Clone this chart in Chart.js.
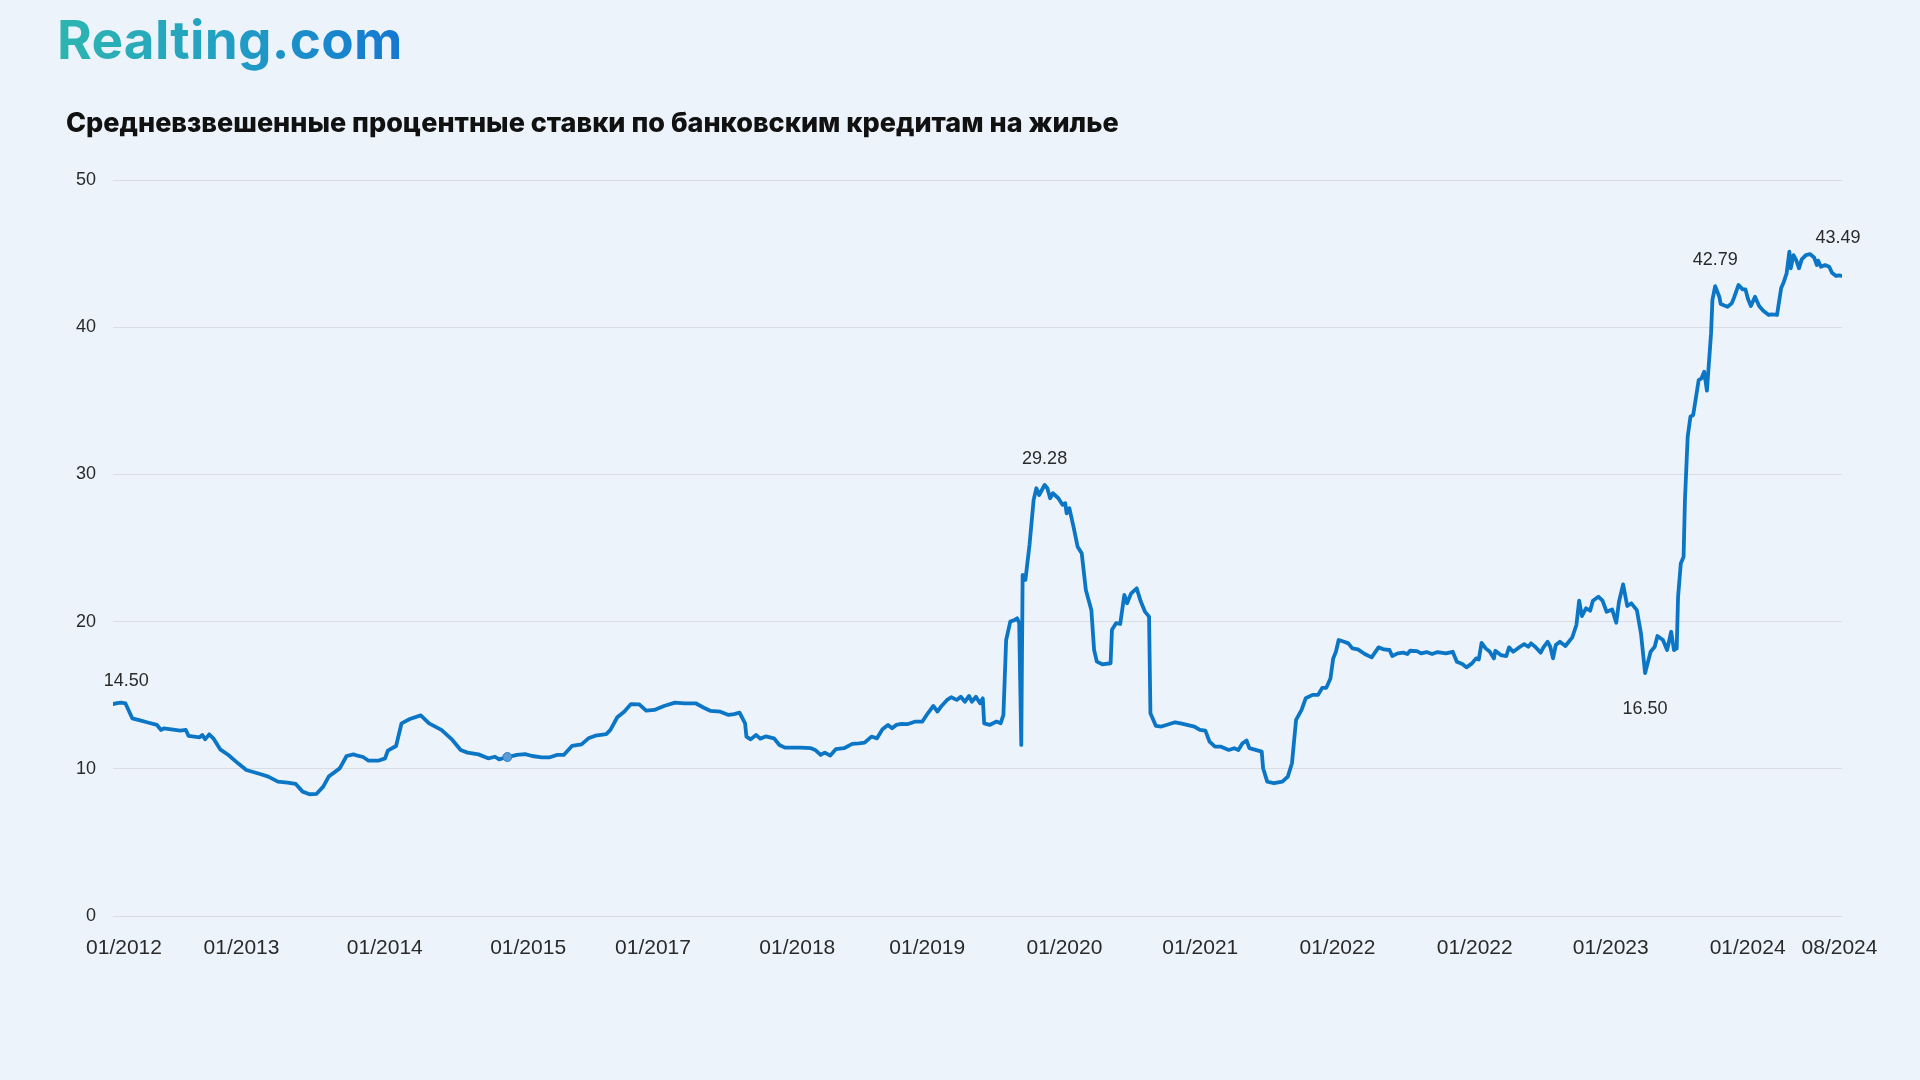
<!DOCTYPE html>
<html>
<head>
<meta charset="utf-8">
<script src="https://cdn.jsdelivr.net/npm/chart.js@4.4.1/dist/chart.umd.min.js"></script>
<style>
  html, body { margin:0; padding:0; width:1920px; height:1080px; overflow:hidden; background:#EDF3FB; }
  #logo { position:absolute; left:57px; top:5px; font-family:Inter, "Noto Sans", sans-serif; font-weight:700;
          font-size:53px; line-height:70px; letter-spacing:0.3px;
          background:linear-gradient(90deg,#2DB5B0 0%,#22A2C2 45%,#1477D2 100%);
          -webkit-background-clip:text; background-clip:text; color:transparent; z-index:2; }
  #title { position:absolute; left:66px; top:109px; font-family:Inter, "Noto Sans", sans-serif; font-weight:800;
           font-size:27px; line-height:27px; color:#111; z-index:2; white-space:nowrap; }
  #wrap { position:absolute; left:0; top:0; width:1920px; height:1080px; z-index:1; }
</style>
</head>
<body>
<div id="logo">Realting.com</div>
<div id="title">Средневзвешенные процентные ставки по банковским кредитам на жилье</div>
<div id="wrap"><canvas id="c" width="1920" height="1080"></canvas></div>
<script>
// ---- data (decimal year, weighted average rate %) ----
const years = [
2012.00,2012.03,2012.06,2012.09,2012.14,2012.19,2012.26,2012.32,2012.35,2012.37,2012.49,2012.53,2012.55,2012.63,2012.65,2012.67,2012.70,2012.73,2012.78,2012.84,2012.91,2012.97,
2013.07,2013.13,2013.20,2013.27,2013.33,2013.38,2013.43,2013.48,2013.53,2013.57,2013.65,2013.70,2013.75,2013.78,2013.82,2013.86,2013.93,2013.98,
2014.00,2014.06,2014.10,2014.16,2014.24,2014.30,2014.39,2014.47,2014.53,2014.58,2014.66,2014.73,2014.78,2014.81,2014.87,2014.94,
2015.00,2015.05,2015.12,2015.18,2015.23,2015.28,2015.34,2015.41,2015.46,2015.51,2015.59,2015.62,2015.67,2015.72,2015.77,2015.83,2015.88,2015.94,
2016.01,2016.09,2016.16,2016.24,2016.30,2016.35,2016.42,2016.48,2016.52,2016.56,2016.60,2016.61,2016.64,2016.68,2016.71,2016.75,2016.81,2016.85,2016.89,
2017.00,2017.08,2017.11,2017.15,2017.18,2017.22,2017.26,2017.32,2017.38,2017.43,2017.47,2017.52,2017.56,2017.60,2017.64,2017.67,2017.70,2017.74,2017.78,2017.84,2017.89,2017.93,2017.97,
2018.00,2018.03,2018.07,2018.10,2018.14,2018.17,2018.20,2018.23,2018.25,2018.28,2018.31,2018.33,2018.34,2018.38,2018.43,2018.46,2018.48,2018.50,2018.53,2018.56,2018.58,2018.595,2018.61,2018.62,2018.64,2018.67,2018.70,2018.72,2018.74,2018.78,2018.80,2018.82,2018.84,2018.88,2018.91,2018.93,2018.94,2018.96,2018.99,
2019.02,2019.05,2019.08,2019.12,2019.14,2019.16,2019.20,2019.26,2019.27,2019.30,2019.33,2019.36,2019.38,2019.41,2019.45,2019.48,2019.51,2019.54,2019.55,2019.59,2019.63,2019.73,2019.77,2019.87,2019.91,2019.95,2019.98,
2020.02,2020.06,2020.12,2020.16,2020.19,2020.22,2020.25,2020.27,2020.36,2020.37,2020.40,2020.45,2020.51,2020.55,2020.58,2020.61,2020.65,2020.68,2020.73,2020.77,2020.80,2020.83,2020.86,2020.88,2020.90,2020.92,2020.96,2020.99,
2021.02,2021.06,2021.11,2021.16,2021.21,2021.25,2021.29,2021.31,2021.35,2021.39,2021.42,2021.44,2021.49,2021.52,2021.56,2021.60,2021.64,2021.70,2021.75,2021.78,2021.82,2021.85,2021.89,2021.92,2021.94,2021.96,2021.99,
2022.02,2022.05,2022.06,2022.10,2022.14,2022.16,2022.19,2022.24,2022.27,2022.30,2022.32,2022.35,2022.39,2022.41,2022.44,2022.46,2022.48,2022.50,2022.53,2022.57,2022.62,2022.65,2022.67,2022.69,2022.72,2022.75,2022.77,2022.81,2022.84,2022.87,2022.91,2022.94,2022.96,2022.99,
2023.02,2023.05,2023.09,2023.12,2023.15,2023.19,2023.22,2023.24,2023.28,2023.31,2023.34,2023.36,2023.38,2023.39,2023.41,2023.43,2023.44,2023.46,2023.48,2023.50,2023.54,2023.56,2023.58,2023.60,2023.63,2023.64,2023.66,2023.69,2023.70,2023.75,2023.78,2023.80,2023.83,2023.86,2023.88,2023.90,2023.92,2023.95,2023.98,
2024.01,2024.05,2024.07,2024.11,2024.14,2024.16,2024.18,2024.20,2024.21,2024.23,2024.25,2024.27,2024.29,2024.32,2024.35,2024.38,2024.40,2024.41,2024.43,2024.46,2024.49,2024.51,2024.54,2024.56,2024.583
];
const rates = [
14.40,14.46,14.50,14.45,13.43,13.31,13.13,12.98,12.64,12.75,12.59,12.64,12.23,12.14,12.30,12.00,12.34,12.07,11.32,10.94,10.37,9.92,
9.65,9.47,9.13,9.06,8.97,8.45,8.27,8.29,8.79,9.47,10.03,10.87,10.98,10.89,10.80,10.55,10.55,10.71,
11.23,11.55,13.09,13.38,13.63,13.09,12.64,11.96,11.28,11.10,10.98,10.71,10.82,10.64,10.80,10.94,
11.00,10.87,10.78,10.78,10.94,10.94,11.55,11.66,12.07,12.25,12.36,12.64,13.50,13.88,14.40,14.38,13.95,14.00,
14.27,14.50,14.45,14.45,14.15,13.93,13.88,13.66,13.72,13.81,13.09,12.18,12.00,12.30,12.05,12.20,12.07,11.62,11.44,
11.44,11.40,11.28,10.94,11.10,10.90,11.33,11.40,11.69,11.73,11.78,12.19,12.07,12.69,12.98,12.75,12.98,13.05,13.03,13.21,13.21,13.77,14.27,
13.89,14.27,14.68,14.86,14.68,14.90,14.56,14.95,14.56,14.90,14.45,14.79,13.09,12.98,13.21,13.09,13.66,18.75,20.00,20.10,20.23,19.89,11.62,23.17,22.83,25.21,28.27,29.06,28.60,29.28,29.06,28.38,28.72,28.38,27.93,28.04,27.36,27.70,26.45,
25.09,24.64,22.15,20.79,18.08,17.28,17.10,17.17,19.44,19.89,19.84,21.81,21.25,21.92,22.26,21.36,20.68,20.34,13.77,12.91,12.87,13.16,13.09,12.87,12.64,12.59,11.85,
11.51,11.51,11.28,11.40,11.28,11.73,11.92,11.40,11.17,10.04,9.13,9.02,9.13,9.47,10.38,13.32,14.00,14.79,15.02,15.02,15.50,15.50,16.14,17.50,17.95,18.75,18.63,18.52,
18.18,18.11,17.80,17.57,18.25,18.11,18.07,17.66,17.84,17.89,17.80,18.02,18.00,17.84,17.93,17.80,17.93,17.84,17.95,17.27,17.12,16.89,17.16,17.50,17.43,18.56,18.18,
17.95,17.50,18.02,17.73,17.66,18.25,17.95,18.29,18.47,18.29,18.52,18.29,17.89,18.25,18.63,18.29,17.50,18.41,18.63,18.34,18.93,19.77,21.42,20.38,20.90,20.74,21.42,21.69,21.42,20.67,20.83,19.92,21.35,22.53,
21.06,21.24,20.78,19.20,16.50,17.95,18.29,19.02,18.75,18.07,19.31,18.07,18.18,21.69,23.95,24.41,28.26,32.56,33.92,34.03,36.41,36.52,36.98,35.69,39.58,41.85,42.79,42.07,41.58,41.39,41.62,42.07,42.87,42.57,42.57,41.89,41.44,42.07,41.44,
41.12,40.83,40.87,40.83,42.64,43.09,43.66,45.13,44.00,44.90,44.56,44.00,44.61,44.90,44.97,44.74,44.22,44.52,44.11,44.22,44.11,43.70,43.48,43.52,43.49
];
// x-axis tick positions (decimal year) and the labels printed there
const tickYears  = [2012.08,2012.935,2013.978,2015.021,2015.93,2016.98,2017.926,2018.924,2019.913,2020.911,2021.91,2022.90,2023.896,2024.565];
const tickLabels = ["01/2012","01/2013","01/2014","01/2015","01/2017","01/2018","01/2019","01/2020","01/2021","01/2022","01/2022","01/2023","01/2024","08/2024"];
const yTicks = [0,10,20,30,40,50];
// annotated points (decimal year) and where their value label sits
const labelYears = [2012.06, 2018.78, 2023.15, 2023.66, 2024.583];
const labelSide  = ["above","above","below","above","above"];
const highlightYear = 2014.87;

const xMin = 2012.0, xMax = 2024.583;
const labelIdx = labelYears.map(y => years.indexOf(y));
const hiIdx = years.indexOf(highlightYear);
const labelOffsets = [22, 26, 36, 26, 38];

const valueLabels = {
  id: 'valueLabels',
  afterDatasetsDraw(chart) {
    const meta = chart.getDatasetMeta(0);
    const ctx = chart.ctx;
    ctx.save();
    ctx.font = '18px "Liberation Sans", Arial, sans-serif';
    ctx.fillStyle = '#2a2a2a';
    ctx.textAlign = 'center';
    ctx.textBaseline = 'middle';
    labelIdx.forEach((idx, k) => {
      const pt = meta.data[idx];
      const dy = labelOffsets[k] * (labelSide[k] === 'below' ? 1 : -1);
      let x = pt.x;
      if (k === 0) x += 5;
      if (k === labelIdx.length - 1) x -= 4;
      ctx.fillText(rates[idx].toFixed(2), x, pt.y + dy);
    });
    ctx.restore();
  }
};

new Chart(document.getElementById('c'), {
  type: 'line',
  data: {
    datasets: [{
      data: years.map((x, i) => ({ x: x, y: rates[i] })),
      borderColor: '#0B76C6',
      borderWidth: 3.8,
      tension: 0,
      fill: false,
      borderJoinStyle: 'round',
      borderCapStyle: 'round',
      pointRadius: c => (c.dataIndex === hiIdx ? 4.5 : 0),
      pointHoverRadius: 0,
      pointBackgroundColor: '#5B9BD8',
      pointBorderColor: '#2F7FC6',
      pointBorderWidth: 1
    }]
  },
  options: {
    responsive: false,
    animation: false,
    devicePixelRatio: 1,
    layout: { padding: { left: 0, right: 78, top: 180, bottom: 0 } },
    plugins: { legend: { display: false }, tooltip: { enabled: false }, title: { display: false } },
    scales: {
      x: {
        type: 'linear', min: xMin, max: xMax,
        grid: { display: false, drawTicks: false },
        border: { display: false },
        afterBuildTicks: s => { s.ticks = tickYears.map(v => ({ value: v })); },
        afterFit: s => { s.height = 164; },
        ticks: {
          autoSkip: false, maxRotation: 0, minRotation: 0, padding: 20,
          color: '#2a2a2a',
          font: { family: '"Liberation Sans", Arial, sans-serif', size: 21 },
          callback: (v, i) => tickLabels[i]
        }
      },
      y: {
        min: 0, max: 50,
        afterBuildTicks: s => { s.ticks = yTicks.map(v => ({ value: v })); },
        afterFit: s => { s.width = 113; },
        grid: { color: '#D9DDE3', lineWidth: 1, drawTicks: false },
        border: { display: false },
        ticks: {
          padding: 17, color: '#2a2a2a',
          font: { family: '"Liberation Sans", Arial, sans-serif', size: 18 }
        }
      }
    }
  },
  plugins: [valueLabels]
});
</script>
</body>
</html>
